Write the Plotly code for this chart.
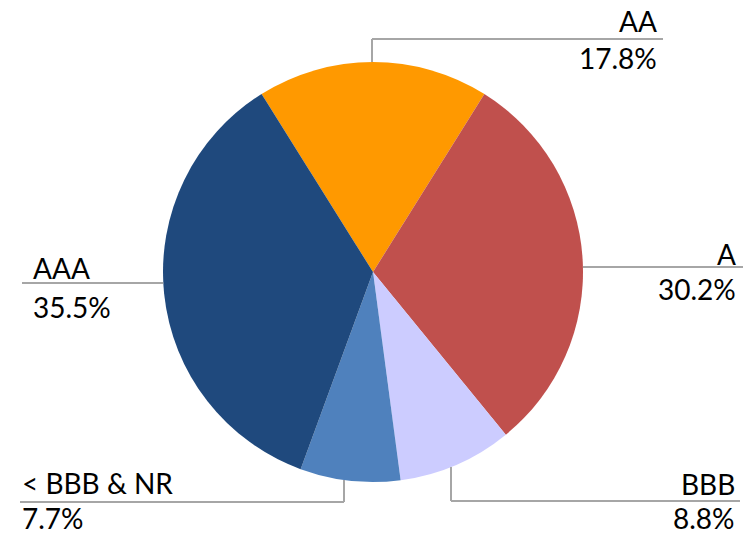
import math
import plotly.graph_objects as go

# ---- data ----
categories = ["AA", "A", "BBB", "< BBB & NR", "AAA"]
shares = [17.8, 30.2, 8.8, 7.7, 35.5]
colors = ["#FF9900", "#C0504D", "#CCCCFF", "#4F81BD", "#1F497D"]

W, H = 747, 535
cx, cy, R = 373, 272, 210  # pie centre / radius in pixels

def px(x):
    return x / W

def py(y):
    return 1 - y / H

total = sum(shares)
start_rot = -0.5 * shares[0] / total * 360  # centre first slice at 12 o'clock

fig = go.Figure(go.Pie(
    labels=categories,
    values=shares,
    sort=False,
    direction="clockwise",
    rotation=start_rot,
    marker=dict(colors=colors, line=dict(width=0)),
    textinfo="none",
    hoverinfo="label+percent",
    domain=dict(x=[px(cx - R), px(cx + R)], y=[py(cy + R), py(cy - R)]),
    showlegend=False,
))

# label layout (pixels): leader line + text centres
layout_spec = {
    "AA": dict(kind="v", c=372, turn=39, x_end=663, tx=659, anchor="right", ly=20.5, py_=58.5),
    "A": dict(kind="h", c=267, x_end=743, tx=738, anchor="right", ly=253.5, py_=289),
    "BBB": dict(kind="v", c=451, turn=501, x_end=740, tx=737, anchor="right", ly=483.5, py_=517.5),
    "< BBB & NR": dict(kind="v", c=344, turn=502, x_end=20, tx=20, anchor="left", ly=483, py_=517.5),
    "AAA": dict(kind="h", c=283, x_end=22, tx=31, anchor="left", ly=268, py_=306.5),
}

line_col = "#A6A6A6"
font = dict(family="Lato, 'Noto Sans', sans-serif", size=28, color="#000000")
shapes = []
annotations = []
for cat, val in zip(categories, shares):
    s = layout_spec[cat]
    if s["kind"] == "h":
        y = s["c"]
        dx = math.sqrt(R * R - (y - cy) ** 2)
        x0 = cx + (dx if s["x_end"] > cx else -dx)
        shapes.append(dict(type="line", xref="paper", yref="paper",
                           x0=px(x0), y0=py(y), x1=px(s["x_end"]), y1=py(y),
                           line=dict(color=line_col, width=2)))
    else:
        x = s["c"]
        dy = math.sqrt(R * R - (x - cx) ** 2)
        y0 = cy + (dy if s["turn"] > cy else -dy)
        shapes.append(dict(type="line", xref="paper", yref="paper",
                           x0=px(x), y0=py(y0), x1=px(x), y1=py(s["turn"]),
                           line=dict(color=line_col, width=2)))
        shapes.append(dict(type="line", xref="paper", yref="paper",
                           x0=px(x), y0=py(s["turn"]), x1=px(s["x_end"]), y1=py(s["turn"]),
                           line=dict(color=line_col, width=2)))
    annotations.append(dict(xref="paper", yref="paper", x=px(s["tx"]), y=py(s["ly"]),
                            text=cat, showarrow=False, xanchor=s["anchor"],
                            yanchor="middle", font=font))
    annotations.append(dict(xref="paper", yref="paper", x=px(s["tx"]), y=py(s["py_"]),
                            text=f"{val:.1f}%", showarrow=False, xanchor=s["anchor"],
                            yanchor="middle", font=font))

fig.update_layout(
    width=W, height=H,
    margin=dict(l=0, r=0, t=0, b=0),
    paper_bgcolor="white",
    plot_bgcolor="white",
    shapes=shapes,
    annotations=annotations,
)

fig.write_html("out.html", config={"displayModeBar": False},
               post_script="document.body.style.margin='0';document.body.style.padding='0';")
